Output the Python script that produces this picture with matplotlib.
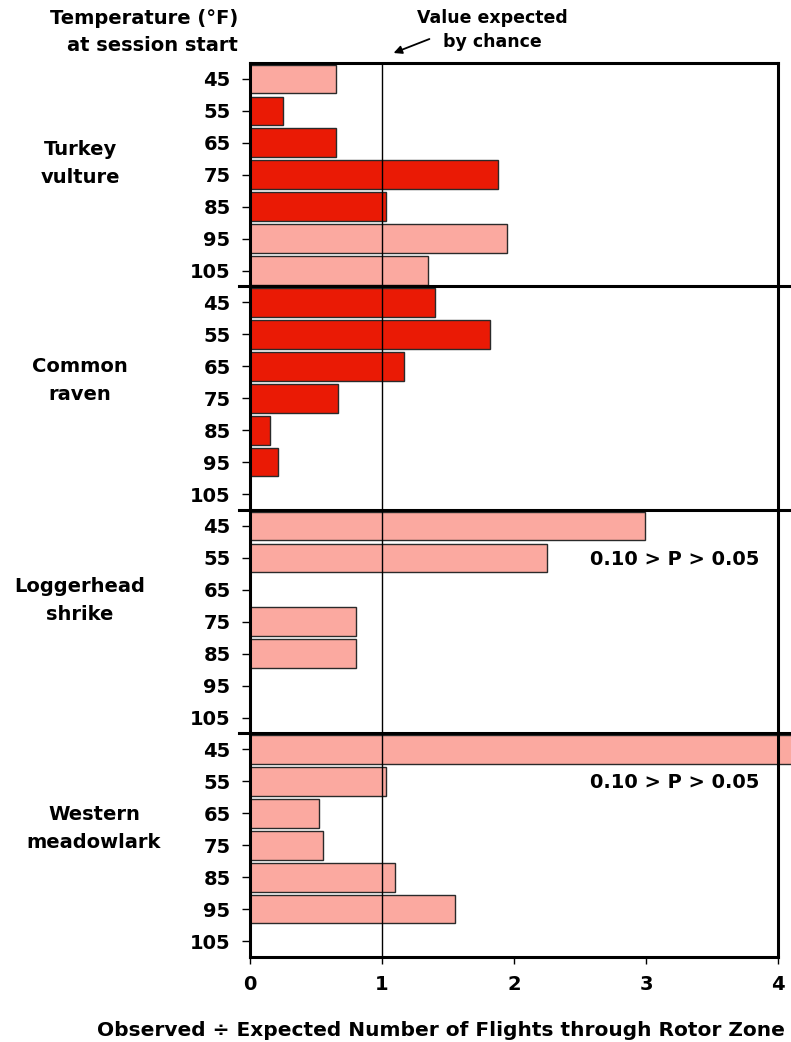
import numpy as np
import matplotlib
matplotlib.use('Agg')
import matplotlib.pyplot as plt

plt.rcParams['font.family'] = ['DejaVu Sans']
plt.rcParams['font.weight'] = 'bold'

# Data (observed / expected ratio)
species = ['Turkey\nvulture', 'Common\nraven', 'Loggerhead\nshrike', 'Western\nmeadowlark']
temps = ['45', '55', '65', '75', '85', '95', '105']
turkey_vulture = [0.65, 0.25, 0.65, 1.88, 1.03, 1.95, 1.35]
common_raven = [1.40, 1.82, 1.17, 0.67, 0.15, 0.21, 0.0]
loggerhead_shrike = [2.99, 2.25, 0.0, 0.80, 0.80, 0.0, 0.0]
western_meadowlark = [4.30, 1.03, 0.52, 0.55, 1.10, 1.55, 0.0]
# True = dark (significant) bar, False = light bar
turkey_dark = [False, True, True, True, True, False, False]
raven_dark = [True, True, True, True, True, True, True]
shrike_dark = [False] * 7
meadow_dark = [False] * 7
p_notes = ['', '', '0.10 > P > 0.05', '0.10 > P > 0.05']

values = [turkey_vulture, common_raven, loggerhead_shrike, western_meadowlark]
darks = [turkey_dark, raven_dark, shrike_dark, meadow_dark]

dark_col = '#EA1A05'
light_col = '#FBA9A0'

W, H = 791, 1042
fig = plt.figure(figsize=(W / 100, H / 100), dpi=100)
ax_l, ax_w = 250 / W, 528 / W
ax = fig.add_axes([ax_l, 1 - 957 / H, ax_w, 894 / H])

n = len(temps)
all_vals = np.concatenate(values)
all_dark = np.concatenate(darks)
ypos = np.arange(len(all_vals)) + 0.5
colors = [dark_col if d else light_col for d in all_dark]
bars = ax.barh(ypos, all_vals, height=0.9, color=colors, edgecolor='#2a2a2a',
               linewidth=1.0, zorder=2)
for b in bars:
    b.set_clip_on(False)

ax.set_xlim(0, 4)
ax.set_ylim(len(all_vals), 0)
ax.axvline(1, color='black', lw=1.0, zorder=3)

# group dividers, extending past the frame
for k in range(1, len(species)):
    ax.plot([-0.02, 1.03], [k * n, k * n], color='black', lw=2.2,
            transform=ax.get_yaxis_transform(), clip_on=False, zorder=4)

ax.set_yticks(ypos)
ax.set_yticklabels(temps * len(species), fontsize=14, fontweight='bold')
ax.set_xticks([0, 1, 2, 3, 4])
ax.set_xticklabels(['0', '1', '2', '3', '4'], fontsize=14, fontweight='bold')
ax.tick_params(axis='y', length=6, width=1, pad=8)
ax.tick_params(axis='x', length=5, width=1, pad=8)
for s in ax.spines.values():
    s.set_linewidth(2.2)
    s.set_zorder(5)

label_x = [80, 80, 80, 94]
label_row = [3.15, 2.93, 2.85, 2.96]
for k, name in enumerate(species):
    ax.text((label_x[k] / W - ax_l) / ax_w, k * n + label_row[k], name,
            transform=ax.get_yaxis_transform(), ha='center', va='center',
            fontsize=14, fontweight='bold', multialignment='center',
            linespacing=1.6)

for k, note in enumerate(p_notes):
    if note:
        ax.text(3.86, k * n + 1.55, note, ha='right', va='center',
                fontsize=14, fontweight='bold')

fig.text(238 / W, 1 - 32 / H, 'Temperature (°F)\nat session start', ha='right',
         va='center', fontsize=14, fontweight='bold', multialignment='right',
         linespacing=1.55)
fig.text(492 / W, 1 - 30 / H, 'Value expected\nby chance', ha='center',
         va='center', fontsize=12.5, fontweight='bold', linespacing=1.45)
fig.add_artist(plt.Annotation('', xy=(391 / W, 1 - 54 / H),
                              xytext=(432 / W, 1 - 38 / H),
                              xycoords='figure fraction', textcoords='figure fraction',
                              arrowprops=dict(arrowstyle='-|>', color='black', lw=1.3,
                                              mutation_scale=12)))
fig.text(441 / W, 1 - 1030 / H,
         'Observed ÷ Expected Number of Flights through Rotor Zone',
         ha='center', va='center', fontsize=14.5, fontweight='bold')

fig.savefig('out.png', dpi=100)
